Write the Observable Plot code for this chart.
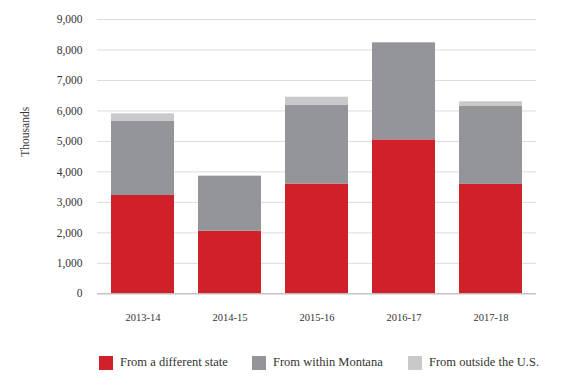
<!DOCTYPE html>
<html>
<head>
<meta charset="utf-8">
<script src="https://cdn.jsdelivr.net/npm/d3@7"></script>
<script src="https://cdn.jsdelivr.net/npm/@observablehq/plot@0.6"></script>
<style>
  body { margin: 0; background: #fff; font-family: 'Liberation Serif', 'DejaVu Serif', serif; }
  #chart svg { display: block; }
  .legend { position: relative; height: 41px; width: 570px; font-family: 'Liberation Serif', 'DejaVu Serif', serif; font-size: 12.5px; color: #333; }
  .item { position: absolute; top: 15px; display: flex; align-items: center; }
  .sw { width: 14px; height: 14px; margin-right: 7px; }
</style>
</head>
<body>
<div id="chart"></div>
<div class="legend" id="legend"></div>
<script>
const seasons = ["2013-14", "2014-15", "2015-16", "2016-17", "2017-18"];
const differentState = [3225, 2050, 3600, 5050, 3590];
const withinMontana = [2430, 1810, 2580, 3185, 2555];
const outsideUS = [250, 0, 270, 0, 155];
const seriesNames = ["From a different state", "From within Montana", "From outside the U.S."];
const seriesColors = ["#d0202a", "#939598", "#c9c9cb"];
const yTicks = [0, 1000, 2000, 3000, 4000, 5000, 6000, 7000, 8000, 9000];

const seriesValues = [differentState, withinMontana, outsideUS];
const rows = [];
seasons.forEach((s, i) => {
  seriesNames.forEach((name, k) => {
    rows.push({season: s, series: name, value: seriesValues[k][i]});
  });
});

const serif = "'Liberation Serif', 'DejaVu Serif', serif";
const chart = Plot.plot({
  width: 570,
  height: 340,
  marginTop: 19,
  marginBottom: 46.7,
  marginLeft: 97,
  marginRight: 34,
  style: {fontFamily: serif, fontSize: "11px", color: "#333", background: "#fff"},
  x: {domain: seasons, paddingInner: 0.28, paddingOuter: 0.15, label: null},
  y: {domain: [0, 9000], label: null},
  color: {domain: seriesNames, range: seriesColors},
  marks: [
    Plot.gridY(yTicks, {stroke: "#dcdcdc", strokeOpacity: 1}),
    Plot.barY(rows, {x: "season", y: "value", fill: "series", order: seriesNames}),
    Plot.ruleY([0], {stroke: "#b5b5b5"}),
    Plot.axisY(yTicks, {tickSize: 0, tickPadding: 15, tickFormat: d3.format(","), fontSize: 11.5, fontFamily: serif, label: null}),
    Plot.axisX({tickSize: 0, tickPadding: 20, fontSize: 10.5, fontFamily: serif, label: null}),
    Plot.text(["Thousands"], {frameAnchor: "left", dx: -72, rotate: -90, fontSize: 11.5, fontFamily: serif, fill: "#333"})
  ]
});
document.getElementById("chart").appendChild(chart);

const legend = document.getElementById("legend");
const lx = [99, 252, 408];
seriesNames.forEach((name, k) => {
  const it = document.createElement("div");
  it.className = "item";
  it.style.left = lx[k] + "px";
  const sw = document.createElement("div");
  sw.className = "sw";
  sw.style.background = seriesColors[k];
  const t = document.createElement("span");
  t.textContent = name;
  it.appendChild(sw);
  it.appendChild(t);
  legend.appendChild(it);
});
</script>
</body>
</html>
